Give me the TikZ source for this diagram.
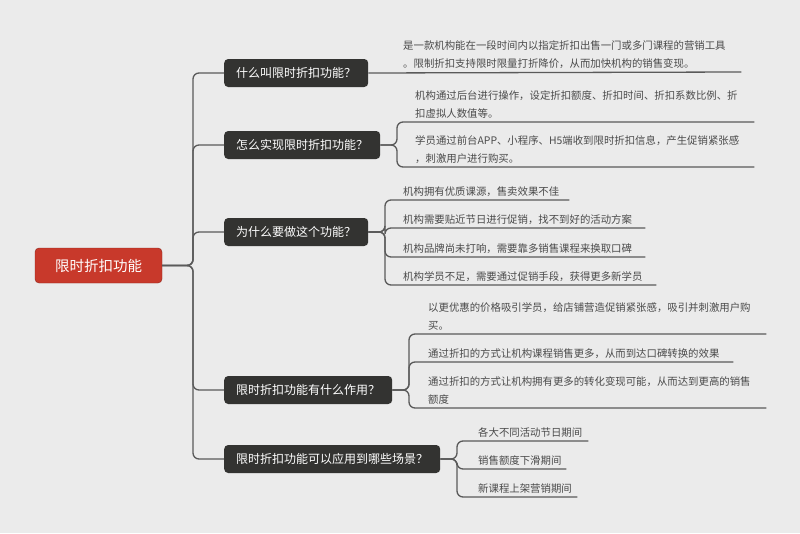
\documentclass[tikz,border=0pt]{standalone}
\usepackage{fontspec}
\setmainfont{Noto Sans CJK SC}
\definecolor{bgray}{HTML}{EBEBEB}
\definecolor{boxdark}{HTML}{333331}
\definecolor{rootred}{HTML}{C8392B}
\definecolor{linegray}{HTML}{5A5A5A}
\definecolor{txtgray}{HTML}{4A4A4A}
\tikzset{
  rootbox/.style={fill=rootred, draw=rootred!70!black, rounded corners=4pt, text=white,
    font=\fontsize{14.5}{16}\selectfont, minimum width=127pt, minimum height=35pt, inner sep=0pt},
  topicbox/.style={fill=boxdark, rounded corners=4pt, text=white, anchor=west,
    font=\fontsize{12}{14}\selectfont, minimum height=28pt, inner xsep=12pt},
  leaf/.style={anchor=south west, align=left, text=txtgray, inner xsep=1pt, inner ysep=3pt,
    font=\fontsize{10.4}{18}\selectfont},
  conn/.style={draw=linegray, line width=1.3pt, rounded corners=6pt},
}
\begin{document}
\begin{tikzpicture}[x=1pt, y=-1pt]
    \fill[bgray] (0,0) rectangle (800,533);
    \useasboundingbox (0,0) rectangle (800,533);

    % root and topics
    \node[rootbox] (root) at (98.5,265.5) {限时折扣功能};
    \node[topicbox] (b1) at (224,73) {什么叫限时折扣功能？};
    \node[topicbox] (b2) at (224,145) {怎么实现限时折扣功能？};
    \node[topicbox] (b3) at (224,232) {为什么要做这个功能？};
    \node[topicbox] (b4) at (224,390) {限时折扣功能有什么作用？};
    \node[topicbox] (b5) at (224,459) {限时折扣功能可以应用到哪些场景？};

    \foreach \b in {b1,b2,b3,b4,b5}
        \draw[conn] (root.east) -- (193,265.5) |- (\b.west);

    % leaves
    \node[leaf, text width=337pt] (l11) at (402,72) {是一款机构能在一段时间内以指定折扣出售一门或多门课程的营销工具\\。限制折扣支持限时限量打折降价，从而加快机构的销售变现。};

    \node[leaf, text width=338pt] (l21) at (414,122) {机构通过后台进行操作，设定折扣额度、折扣时间、折扣系数比例、折\\扣虚拟人数值等。};
    \node[leaf, text width=338pt] (l22) at (414,167) {学员通过前台APP、小程序、H5端收到限时折扣信息，产生促销紧张感\\，刺激用户进行购买。};

    \node[leaf, text width=165pt] (l31) at (402,200) {机构拥有优质课源，售卖效果不佳};
    \node[leaf, text width=241pt] (l32) at (402,228) {机构需要贴近节日进行促销，找不到好的活动方案};
    \node[leaf, text width=241pt] (l33) at (402,257) {机构品牌尚未打响，需要靠多销售课程来换取口碑};
    \node[leaf, text width=252pt] (l34) at (402,285) {机构学员不足，需要通过促销手段，获得更多新学员};

    \node[leaf, text width=337pt] (l41) at (427,334) {以更优惠的价格吸引学员，给店铺营造促销紧张感，吸引并刺激用户购\\买。};
    \node[leaf, text width=304pt] (l42) at (427,362) {通过折扣的方式让机构课程销售更多，从而到达口碑转换的效果};
    \node[leaf, text width=337pt] (l43) at (427,408) {通过折扣的方式让机构拥有更多的转化变现可能，从而达到更高的销售\\额度};

    \node[leaf, text width=109pt] (l51) at (477,441) {各大不同活动节日期间};
    \node[leaf, text width=87pt] (l52) at (477,469) {销售额度下滑期间};
    \node[leaf, text width=98pt] (l53) at (477,497) {新课程上架营销期间};

    % connectors to leaves
    \draw[conn] (b1.east) -- (l11.south east);
    \foreach \l in {l21,l22}
        \draw[conn] (b2.east) -- (397,145) |- (\l.south east);
    \foreach \l in {l31,l32,l33,l34}
        \draw[conn] (b3.east) -- (385,232) |- (\l.south east);
    \foreach \l in {l41,l42,l43}
        \draw[conn] (b4.east) -- (409,390) |- (\l.south east);
    \foreach \l in {l51,l52,l53}
        \draw[conn] (b5.east) -- (457,459) |- (\l.south east);
\end{tikzpicture}
\end{document}
